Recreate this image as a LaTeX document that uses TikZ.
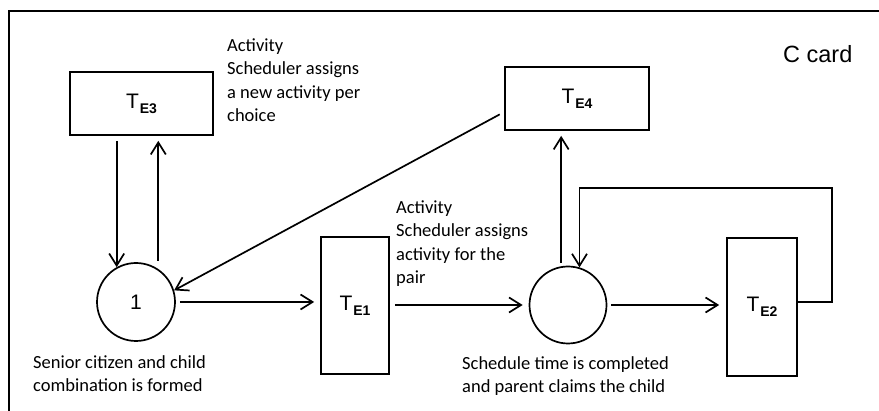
\documentclass[tikz,border=0pt]{standalone}
\usepackage{fontspec}
\setmainfont{Carlito}
\newfontfamily\cardfont{Liberation Sans}
\usetikzlibrary{arrows.meta}

\newcommand{\tname}[1]{{\cardfont\fontsize{21}{21}\selectfont T\hspace{1pt}\raisebox{-5pt}{\bfseries\fontsize{14}{14}\selectfont #1}}}

\tikzset{
    box/.style={draw, line width=1.7pt, rectangle, inner sep=0pt},
    place/.style={draw, line width=1.7pt, circle, inner sep=0pt},
    arr/.style={line width=1.7pt, -{Straight Barb[length=12pt,width=15pt,line width=1.7pt]}},
    wire/.style={line width=1.7pt},
    note/.style={anchor=base west, align=left, inner sep=0pt, font=\fontsize{18.5}{23.5}\selectfont},
}

\begin{document}
\begin{tikzpicture}[x=1pt, y=-1pt]
        \useasboundingbox (0,0) rectangle (879,411);
        \draw[wire] (9,411) -- (9,11) -- (879,11);

        \node[box, minimum width=143pt, minimum height=63pt] (te3) at (141.5,103.5) {\tname{E3}};
        \node[box, minimum width=144pt, minimum height=63pt] (te4) at (577,98.5) {\tname{E4}};
        \node[box, minimum width=68pt, minimum height=137pt] (te1) at (355,305.5) {\tname{E1}};
        \node[box, minimum width=70pt, minimum height=138pt] (te2) at (762,307) {\tname{E2}};
        \node[place, minimum size=78pt, font=\cardfont\fontsize{21}{21}\selectfont] (p1) at (136,302) {1};
        \node[place, minimum size=77pt] (p2) at (568,305) {};

        % base anchor sits on the last line
        \node[note] (n3) at (227,122) {Activity\\Scheduler assigns\\a new activity per\\choice};
        \node[note] (n1) at (396,284) {Activity\\Scheduler assigns\\activity for the\\pair};
        \node[note] (np1) at (33,392) {Senior citizen and child\\combination is formed};
        \node[note] (np2) at (462,393) {Schedule time is completed\\and parent claims the child};
        \node[anchor=base west, inner sep=0pt, font=\cardfont\fontsize{23.5}{23.5}\selectfont] (card) at (783,63) {C card};

        \coordinate (loop) at (832,188);

        \draw[arr, shorten <=5pt] (te3.south -| p1.119) -- (p1.119);
        \draw[arr, shorten <=8pt, shorten >=5pt] (p1.56) -- (p1.56 |- te3.south);
        \draw[arr, shorten <=5pt] ([yshift=-13.5pt]te4.west) -- (p1.17);
        \draw[arr, shorten <=4pt, shorten >=6pt] (p1.east) -- (te1.west |- p1.east);
        \draw[arr, shorten <=5pt, shorten >=6pt] (te1.east |- p2.west) -- (p2.west);
        \draw[arr, shorten <=4pt, shorten >=7pt] (p2.east) -- (te2.west |- p2.east);
        \draw[arr, shorten <=3pt, shorten >=5pt] (p2.100) -- (p2.100 |- te4.south);
        \draw[arr] ([yshift=5pt]te2.east) -- ([yshift=5pt]te2.east -| loop) -- (loop) -| (p2.73);
\end{tikzpicture}
\end{document}
